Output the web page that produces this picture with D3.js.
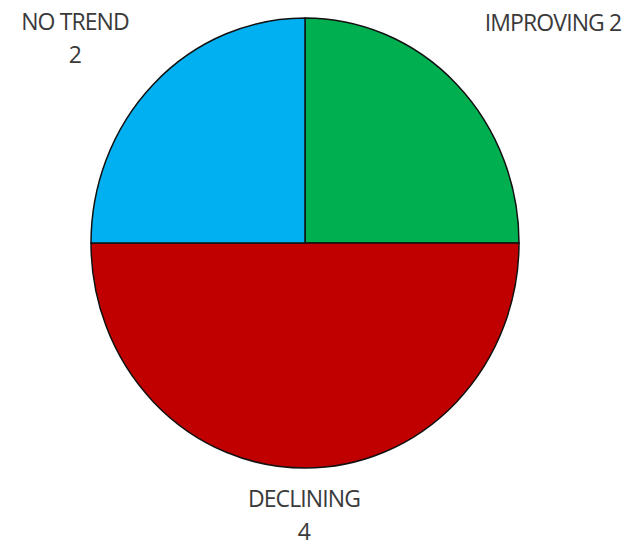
<!DOCTYPE html>
<html><head><meta charset="utf-8">
<script src="https://cdn.jsdelivr.net/npm/d3@7"></script>
<style>body{margin:0;background:#fff}</style>
</head><body>
<svg id="c" width="640" height="548"></svg>
<script>
const categories = ["IMPROVING", "DECLINING", "NO TREND"];
const values = [2, 4, 2];
const colors = ["#00b050", "#c00000", "#00b0f0"];

const svg = d3.select("#c");
const cx = 305, cy = 243, rx = 214, ry = 225;
const pie = d3.pie().sort(null).value(d => d.v);
const data = pie(categories.map((c, i) => ({c, v: values[i], col: colors[i]})));
const arc = d3.arc().innerRadius(0).outerRadius(rx);
const g = svg.append("g").attr("transform", `translate(${cx},${cy}) scale(1,${ry/rx})`);
g.selectAll("path").data(data).join("path")
  .attr("d", arc).attr("fill", d => d.data.col)
  .attr("stroke", "#111").attr("stroke-width", 1.5).attr("vector-effect", "non-scaling-stroke");

const font = "'Open Sans', sans-serif";
const lab = [
  {lines: [categories[2], String(values[2])], x: 75, y: [30, 63]},
  {lines: [categories[0] + " " + values[0]], x: 553, y: [31]},
  {lines: [categories[1], String(values[1])], x: 304, y: [507, 540]}
];
lab.forEach(l => {
  l.lines.forEach((t, i) => {
    svg.append("text").attr("x", l.x).attr("y", l.y[i]).attr("text-anchor", "middle")
      .attr("font-family", font).attr("font-size", 23).attr("fill", "#3a3a3a")
      .attr("letter-spacing", -0.9).text(t);
  });
});
</script>
</body></html>
